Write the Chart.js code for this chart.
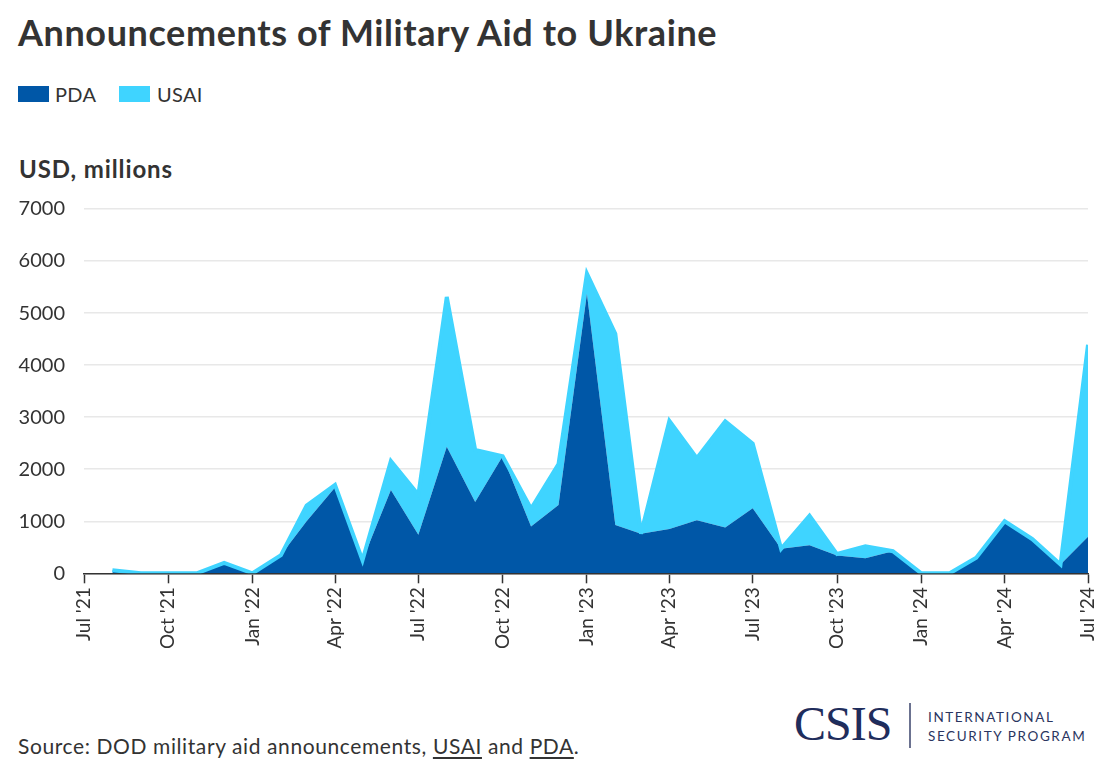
<!DOCTYPE html>
<html>
<head>
<meta charset="utf-8">
<script src="https://cdn.jsdelivr.net/npm/chart.js@4/dist/chart.umd.min.js"></script>
<style>
  html, body { margin: 0; padding: 0; background: #fff; }
  body { width: 1117px; height: 766px; position: relative; overflow: hidden; font-family: Lato, "Noto Sans", sans-serif; color: #333; }
  .abs { position: absolute; white-space: nowrap; }
  #title { left: 18px; top: 14px; font-size: 36px; line-height: 36px; font-weight: 700; color: #333; letter-spacing: 0.6px; }
  .sw { position: absolute; width: 31px; height: 16px; top: 86px; }
  .lt { position: absolute; top: 84px; font-size: 20px; line-height: 20px; color: #333; letter-spacing: 0.3px; }
  #unit { left: 19px; top: 157px; font-size: 24px; line-height: 24px; font-weight: 700; color: #333; letter-spacing: 0.9px; }
  #chartWrap { position: absolute; left: 0; top: 190px; width: 1117px; height: 480px; }
  #source { left: 18px; top: 735px; font-size: 21px; line-height: 21px; color: #333; letter-spacing: 0.6px; }
  #source u { text-decoration-thickness: 2px; text-underline-offset: 3px; }
  #csis { left: 794px; top: 700px; font-family: "Liberation Serif", "DejaVu Serif", serif; font-size: 48px; line-height: 48px; color: #1f2d5c; letter-spacing: -1px; }
  #sep { position: absolute; left: 909px; top: 703px; width: 1.5px; height: 45px; background: #6b7290; }
  .prog { left: 928px; font-size: 13.5px; line-height: 13.5px; letter-spacing: 1.6px; color: #2a3560; }
</style>
</head>
<body>
<div id="title" class="abs">Announcements of Military Aid to Ukraine</div>
<div class="sw" style="left:18px;background:#0057a7"></div>
<div class="lt" style="left:55px">PDA</div>
<div class="sw" style="left:119px;background:#3fd4ff"></div>
<div class="lt" style="left:157px">USAI</div>
<div id="unit" class="abs">USD, millions</div>
<div id="chartWrap"><canvas id="c" width="1117" height="480"></canvas></div>
<div id="source" class="abs">Source: DOD military aid announcements, <u>USAI</u> and <u>PDA</u>.</div>
<div id="csis" class="abs">CSIS</div>
<div id="sep"></div>
<div class="abs prog" style="top:711px">INTERNATIONAL</div>
<div class="abs prog" style="top:730px">SECURITY PROGRAM</div>

<script>
// ---- Data (USD millions, monthly announcements) ----
const months = [
  '2021-08','2021-09','2021-10','2021-11','2021-12',
  '2022-01','2022-02','2022-03','2022-04','2022-05','2022-06',
  '2022-07','2022-08','2022-09','2022-10','2022-11','2022-12',
  '2023-01','2023-02','2023-03','2023-04','2023-05','2023-06',
  '2023-07','2023-08','2023-09','2023-10','2023-11','2023-12',
  '2024-01','2024-02','2024-03','2024-04','2024-05','2024-06','2024-07'
];
const pda = [
  60, 0, 0, 0, 200,
  0, 350, 1000, 1650, 250, 1600,
  740, 2430, 1370, 2250, 900, 1310,
  5370, 930, 760, 850, 1020, 880,
  1250, 470, 540, 340, 290, 425,
  0, 0, 300, 980, 660, 170, 700
];
const usai = [
  0, 0, 0, 0, 0,
  0, 0, 300, 50, 0, 560,
  770, 2880, 1000, 0, 340, 790,
  390, 3670, 0, 2080, 1190, 2040,
  1240, 0, 565, 30, 230, 0,
  0, 0, 0, 20, 0, 0, 3690
];
const tickMonths = ['2021-07','2021-10','2022-01','2022-04','2022-07','2022-10','2023-01','2023-04','2023-07','2023-10','2024-01','2024-04','2024-07'];
const tickLabels = ["Jul '21","Oct '21","Jan '22","Apr '22","Jul '22","Oct '22","Jan '23","Apr '23","Jul '23","Oct '23","Jan '24","Apr '24","Jul '24"];
const yTicks = [0, 1000, 2000, 3000, 4000, 5000, 6000, 7000];

// ---- Helpers ----
const dayOf = s => { const p = s.split('-').map(Number); return Date.UTC(p[0], p[1] - 1, 1) / 86400000; };
const xs = months.map(dayOf);
const tickXs = tickMonths.map(dayOf);

const COL_PDA = '#0057a7';
const COL_USAI = '#3fd4ff';
const FONT = 'Lato, "Noto Sans", sans-serif';

const miterPlugin = {
  id: 'miterLimit',
  beforeDatasetsDraw(chart) { chart.ctx.miterLimit = 4; }
};

new Chart(document.getElementById('c'), {
  type: 'line',
  data: {
    datasets: [
      {
        label: 'PDA',
        data: xs.map((x, i) => ({ x, y: pda[i] })),
        backgroundColor: COL_PDA,
        borderColor: COL_PDA,
        borderWidth: 0,
        fill: 'origin',
        pointRadius: 0,
        tension: 0
      },
      {
        label: 'USAI',
        data: xs.map((x, i) => ({ x, y: usai[i] })),
        backgroundColor: COL_USAI,
        borderColor: COL_USAI,
        borderWidth: 4,
        borderJoinStyle: 'miter',
        fill: '-1',
        pointRadius: 0,
        tension: 0
      }
    ]
  },
  plugins: [miterPlugin],
  options: {
    responsive: false,
    animation: false,
    layout: { padding: { left: 0, right: 29, top: 19, bottom: 0 } },
    plugins: {
      legend: { display: false },
      tooltip: { enabled: false },
      filler: { drawTime: 'beforeDatasetsDraw' }
    },
    scales: {
      x: {
        type: 'linear',
        min: tickXs[0],
        max: tickXs[tickXs.length - 1],
        z: 1,
        afterBuildTicks: s => { s.ticks = tickXs.map(v => ({ value: v })); },
        afterFit: s => { s.height = 96.7; },
        grid: { drawOnChartArea: false, drawTicks: true, tickLength: 10, tickColor: '#333', tickWidth: 1.5 },
        border: { display: true, color: '#333', width: 1.5 },
        ticks: {
          autoSkip: false,
          maxRotation: 90,
          minRotation: 90,
          padding: 4,
          color: '#333',
          font: { family: FONT, size: 19 },
          callback: v => { const i = tickXs.indexOf(v); return i >= 0 ? tickLabels[i] : ''; }
        }
      },
      y: {
        stacked: true,
        min: yTicks[0],
        max: yTicks[yTicks.length - 1],
        afterBuildTicks: s => { s.ticks = yTicks.map(v => ({ value: v })); },
        afterFit: s => { s.width = 84; },
        grid: { color: '#e8e8e8', lineWidth: 1.5, drawTicks: true, tickLength: 19, tickColor: 'rgba(0,0,0,0)' },
        border: { display: false },
        ticks: {
          padding: 0,
          color: '#333',
          font: { family: FONT, size: 20 },
          callback: v => String(v)
        }
      }
    }
  }
});
</script>
</body>
</html>
